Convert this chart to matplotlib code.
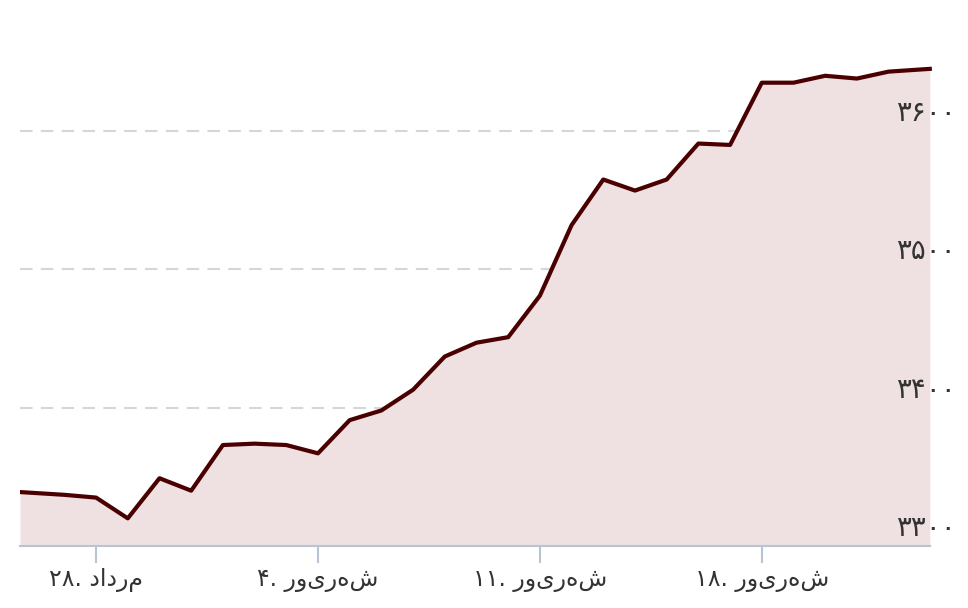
import matplotlib
matplotlib.use("Agg")
import matplotlib.pyplot as plt

# day index relative to 28 Mordad
days = [-2.4, -1, 0, 1, 2, 3, 4, 5, 6, 7, 8, 9, 10, 11, 12, 13, 14, 15, 16, 17,
        18, 19, 20, 21, 22, 23, 24, 25, 26.3]
values = [3339, 3337, 3335, 3320, 3349, 3340, 3373, 3374, 3373, 3367, 3391, 3398,
          3413, 3437, 3447, 3451, 3481, 3532, 3565, 3557, 3565, 3591, 3590, 3635,
          3635, 3640, 3638, 3643, 3645]
tick_days = [0, 7, 14, 21]
tick_labels = ["۲۸. " + "مرداد"[::-1], "۴. " + "شهریور"[::-1],
               "۱۱. " + "شهریور"[::-1], "۱۸. " + "شهریور"[::-1]]
grid_vals = [3300, 3400, 3500, 3600]
grid_labels = ["۳۳۰۰", "۳۴۰۰", "۳۵۰۰", "۳۶۰۰"]

fig = plt.figure(figsize=(9.68, 6.08), dpi=100)
ax = fig.add_axes([20 / 968, 62 / 608, 940 / 968, 546 / 608])
ax.set_xlim(days[0], days[0] + 940 / 31.7)
ax.set_ylim(3300, 3300 + 546 / 1.383)

ax.fill_between(days, values, 3300, color="#efe1e2", lw=0)
ax.plot(days, values, color="#4a0000", lw=3, solid_joinstyle="round")

for v, lab in zip(grid_vals, grid_labels):
    if v > 3300:
        ax.hlines(v, days[0], days[-1], color="#d6d6d6", lw=1.5, ls=(0, (6, 4)), zorder=0)
    ax.text(0.995, v + 3, lab, transform=ax.get_yaxis_transform(), ha="right",
            va="bottom", fontsize=20, color="#333333", family="DejaVu Sans")

for s in ["top", "right", "left"]:
    ax.spines[s].set_visible(False)
ax.spines["bottom"].set_color("#b8c4d6")
ax.spines["bottom"].set_linewidth(1.5)
ax.spines["bottom"].set_bounds(days[0], days[-1])
ax.set_yticks([])
ax.set_xticks(tick_days)
ax.set_xticklabels(tick_labels, fontsize=17, color="#333333", family="DejaVu Sans")
ax.tick_params(axis="x", length=12, width=1.5, color="#b8c4d6", pad=4)

fig.savefig("out.png", dpi=100)
